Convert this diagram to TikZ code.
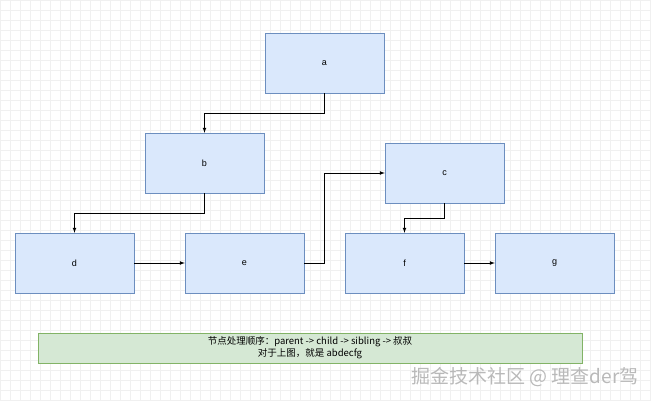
\documentclass[tikz,border=0pt]{standalone}
\usepackage{fontspec}
\setmainfont{Liberation Sans}
\newfontfamily\cjk{Noto Sans CJK SC}
\begin{document}
\begin{tikzpicture}[x=1pt,y=-1pt,
  box/.style={draw=bdraw,fill={rgb,255:red,218;green,232;blue,252},minimum width=119pt,minimum height=60pt,inner sep=0pt,font=\fontsize{9}{10}\selectfont},
  conn/.style={draw=black,line width=0.7pt,-latex}]
\definecolor{gfill}{RGB}{213,232,212}\definecolor{gdraw}{RGB}{130,179,102}\definecolor{bdraw}{RGB}{108,142,191}
\useasboundingbox (0,0) rectangle (651,400);
\fill[white] (0,0) rectangle (651,400);
\foreach \i in {0,10,...,650} \draw[gray!12,line width=0.4pt] (\i,0) -- (\i,400);
\foreach \j in {0,10,...,400} \draw[gray!12,line width=0.4pt] (0,\j) -- (651,\j);
\node[box] (a) at (324.5,63) {a};
\node[box] (b) at (204.5,163) {b};
\node[box] (c) at (444.5,173) {c};
\node[box] (d) at (74.5,263) {d};
\node[box] (e) at (244.5,263) {e};
\node[box] (f) at (404.5,263) {f};
\node[box] (g) at (554.5,263) {g};
\node[draw=gdraw,fill=gfill,minimum width=544pt,minimum height=30pt,inner sep=0pt,align=center,font=\cjk\fontsize{9.5}{12}\selectfont] (n) at (310,348) {节点处理顺序：parent -> child -> sibling -> 叔叔\\对于上图，就是 abdecfg};
\draw[conn] (a.south) -- ++(0,20) -| (b.north);
\draw[conn] (b.south) -- ++(0,20) -| (d.north);
\draw[conn] (d.east) -- (e.west);
\draw[conn] (e.east) -- ++(20,0) |- (c.west);
\draw[conn] (c.south) -- ++(0,15) -| (f.north);
\draw[conn] (f.east) -- (g.west);
\node[font=\cjk\fontsize{19}{22}\selectfont,text=gray!55,anchor=east] (w) at (642,377) {掘金技术社区 @ 理查der驾};
\end{tikzpicture}
\end{document}
